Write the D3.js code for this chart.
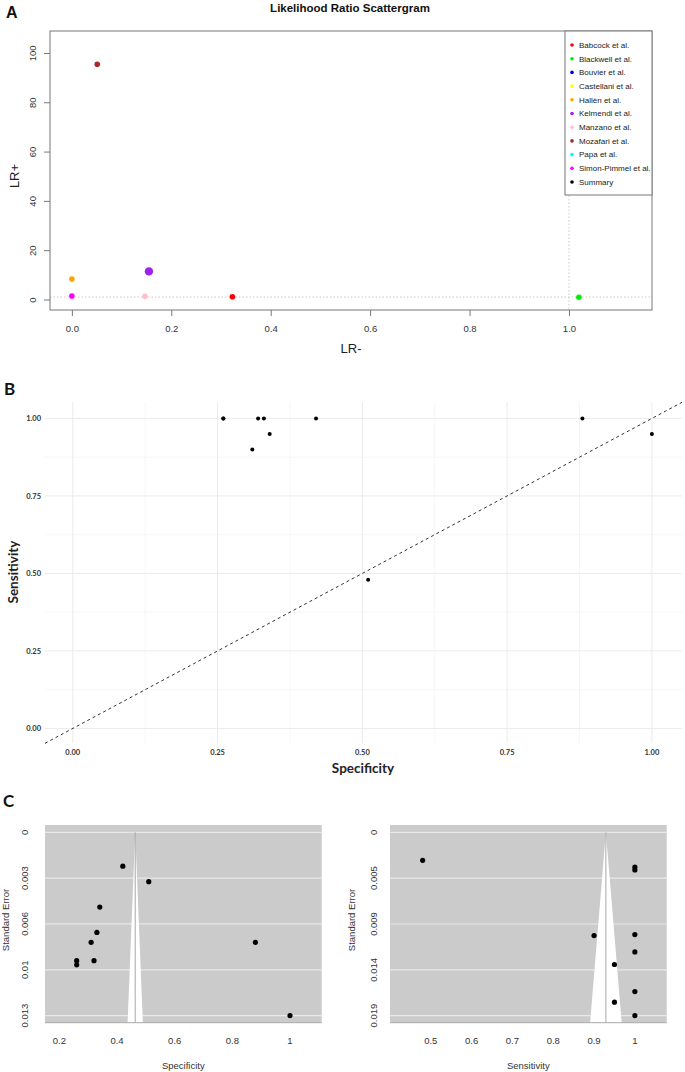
<!DOCTYPE html>
<html><head><meta charset="utf-8">
<script src="https://cdn.jsdelivr.net/npm/d3@7"></script>
<style>body{margin:0;background:#fff} svg{display:block}</style>
</head><body>
<script>
// ---------- DATA ----------
// Panel A: likelihood ratio scattergram
const studies = ["Babcock et al.","Blackwell et al.","Bouvier et al.","Castellani et al.","Hallèn et al.","Kelmendi et al.","Manzano et al.","Mozafari et al.","Papa et al.","Simon-Pimmel et al.","Summary"];
const studyColors = ["#FF0000","#00EE00","#0000CD","#FFFF00","#FFA500","#A020F0","#FFC0CB","#A52A2A","#00FFFF","#FF00FF","#000000"];
const lrNeg = [0.323, 1.02, null, null, 0.0, 0.155, 0.147, 0.051, null, 0.0, null];
const lrPos = [1.1, 0.9, null, null, 8.3, 11.4, 1.3, 95.4, null, 1.4, null];
const lrNegTicks = [0, 0.2, 0.4, 0.6, 0.8, 1.0];
const lrPosTicks = [0, 20, 40, 60, 80, 100];

// Panel B: ROC plane
const rocSpec = [0.26, 0.26, 0.32, 0.33, 0.42, 0.88, 0.34, 0.31, 1.00, 0.51];
const rocSens = [1.00, 1.00, 1.00, 1.00, 1.00, 1.00, 0.95, 0.90, 0.95, 0.48];
const rocTicks = [0, 0.25, 0.5, 0.75, 1];
const rocMinor = [0.125, 0.375, 0.625, 0.875];

// Panel C: funnel plots
const specVals = [0.42, 0.51, 0.34, 0.33, 0.31, 0.88, 0.26, 0.26, 0.32, 1.00];
const specSE   = [0.0024, 0.0035, 0.0053, 0.0071, 0.0078, 0.0078, 0.0091, 0.0094, 0.0091, 0.0130];
const specSummary = 0.463;
const specXTicks = [0.2, 0.4, 0.6, 0.8, 1];
const specYTicks = [0, 0.00325, 0.0065, 0.00975, 0.013];
const specYLabels = ["0", "0.003", "0.006", "0.01", "0.013"];

const sensVals = [0.48, 1.00, 1.00, 0.90, 1.00, 1.00, 0.95, 1.00, 0.95, 1.00];
const sensSE   = [0.0029, 0.0036, 0.0039, 0.0107, 0.0106, 0.0124, 0.0137, 0.0165, 0.0176, 0.0190];
const sensSummary = 0.929;
const sensXTicks = [0.5, 0.6, 0.7, 0.8, 0.9, 1];
const sensYTicks = [0, 0.00475, 0.0095, 0.01425, 0.019];
const sensYLabels = ["0", "0.005", "0.009", "0.014", "0.019"];

// ---------- SETUP ----------
const W = 685, H = 1072;
const svg = d3.select("body").append("svg").attr("width", W).attr("height", H);
svg.append("rect").attr("width", W).attr("height", H).attr("fill", "#fff");
const fR = "'Liberation Sans', Arial, Helvetica, sans-serif";
const fB = "Lato, 'Open Sans', sans-serif";

// ---------- PANEL A ----------
{
  const g = svg.append("g");
  const L = 50, R = 652, T = 31, B = 310;
  const x = d3.scaleLinear().domain([-0.044, 1.167]).range([L, R]);
  const y = d3.scaleLinear().domain([-4.26, 108.9]).range([B, T]);

  g.append("text").attr("x", 6).attr("y", 18).attr("font-family", fR).attr("font-weight", "bold")
    .attr("font-size", 16).attr("fill", "#111").text("A");
  g.append("text").attr("x", 350).attr("y", 12).attr("text-anchor", "middle").attr("font-family", fR)
    .attr("font-weight", "bold").attr("font-size", 11.5).attr("fill", "#111").text("Likelihood Ratio Scattergram");

  // reference lines
  g.append("line").attr("x1", L).attr("x2", R).attr("y1", y(1)).attr("y2", y(1))
    .attr("stroke", "#bbb").attr("stroke-width", 0.8).attr("stroke-dasharray", "1.5,2");
  g.append("line").attr("x1", x(1)).attr("x2", x(1)).attr("y1", T).attr("y2", B)
    .attr("stroke", "#bbb").attr("stroke-width", 0.8).attr("stroke-dasharray", "1.5,2");

  const pts = studies.map((s, i) => ({ s, c: studyColors[i], xv: lrNeg[i], yv: lrPos[i] }))
    .filter(d => d.xv !== null);
  g.selectAll("circle.pa").data(pts).join("circle").attr("class", "pa")
    .attr("cx", d => x(d.xv)).attr("cy", d => y(d.yv))
    .attr("r", d => d.s === "Kelmendi et al." ? 4.2 : 2.8)
    .attr("fill", d => d.c);

  // axes
  const ax = g.append("g").attr("transform", `translate(0,${B})`)
    .call(d3.axisBottom(x).tickValues(lrNegTicks).tickFormat(d3.format(".1f")).tickSize(6).tickPadding(9));
  const ay = g.append("g").attr("transform", `translate(${L},0)`)
    .call(d3.axisLeft(y).tickValues(lrPosTicks).tickSize(6));
  [ax, ay].forEach(a => {
    a.select(".domain").remove();
    a.selectAll(".tick line").attr("stroke", "#777");
    a.selectAll("text").attr("font-family", fR).attr("font-size", 9.5).attr("fill", "#333");
  });
  ay.selectAll("text").attr("x", null).attr("dy", "0.35em").attr("text-anchor", "middle")
    .attr("transform", "translate(-17,0) rotate(-90)");

  g.append("rect").attr("x", L).attr("y", T).attr("width", R - L).attr("height", B - T)
    .attr("fill", "none").attr("stroke", "#777").attr("stroke-width", 1);

  g.append("text").attr("transform", "translate(19,176) rotate(-90)").attr("text-anchor", "middle")
    .attr("font-family", fR).attr("font-size", 13).attr("fill", "#222").text("LR+");
  g.append("text").attr("x", 351).attr("y", 353).attr("text-anchor", "middle")
    .attr("font-family", fR).attr("font-size", 13).attr("fill", "#222").text("LR-");

  // legend
  const lg = g.append("g");
  lg.append("rect").attr("x", 565).attr("y", T).attr("width", R - 565).attr("height", 164)
    .attr("fill", "#fff").attr("stroke", "#777").attr("stroke-width", 1);
  const items = lg.selectAll("g.li").data(studies).join("g").attr("class", "li")
    .attr("transform", (d, i) => `translate(572,${45 + i * 13.7})`);
  items.append("circle").attr("r", 1.8).attr("fill", (d, i) => studyColors[i]);
  items.append("text").attr("x", 7).attr("dy", "0.35em").attr("font-family", fR)
    .attr("font-size", 8).attr("fill", "#222").text(d => d);
}

// ---------- PANEL B ----------
{
  const g = svg.append("g");
  const L = 45, R = 682, T = 402, B = 743;
  const x = d3.scaleLinear().domain([-0.048, 1.052]).range([L, R]);
  const y = d3.scaleLinear().domain([-0.047, 1.053]).range([B, T]);

  g.append("text").attr("x", 4).attr("y", 395).attr("font-family", fB).attr("font-weight", "bold")
    .attr("font-size", 17).attr("fill", "#111").text("B");

  g.selectAll("line.vmin").data(rocMinor).join("line").attr("x1", d => x(d)).attr("x2", d => x(d))
    .attr("y1", T).attr("y2", B).attr("stroke", "#F0F0F0").attr("stroke-width", 0.6);
  g.selectAll("line.hmin").data(rocMinor).join("line").attr("y1", d => y(d)).attr("y2", d => y(d))
    .attr("x1", L).attr("x2", R).attr("stroke", "#F0F0F0").attr("stroke-width", 0.6);
  g.selectAll("line.vmaj").data(rocTicks).join("line").attr("x1", d => x(d)).attr("x2", d => x(d))
    .attr("y1", T).attr("y2", B).attr("stroke", "#EBEBEB").attr("stroke-width", 1);
  g.selectAll("line.hmaj").data(rocTicks).join("line").attr("y1", d => y(d)).attr("y2", d => y(d))
    .attr("x1", L).attr("x2", R).attr("stroke", "#EBEBEB").attr("stroke-width", 1);

  const d0 = x.domain()[0], d1 = x.domain()[1];
  g.append("line").attr("x1", x(d0)).attr("y1", y(d0)).attr("x2", x(d1)).attr("y2", y(d1))
    .attr("stroke", "#333").attr("stroke-width", 1).attr("stroke-dasharray", "3,3");

  g.selectAll("circle").data(rocSpec.map((s, i) => [s, rocSens[i]])).join("circle")
    .attr("cx", d => x(d[0])).attr("cy", d => y(d[1])).attr("r", 2).attr("fill", "#000");

  g.selectAll("text.yt").data(rocTicks).join("text").attr("class", "yt")
    .attr("x", 41).attr("y", d => y(d)).attr("dy", "0.35em").attr("text-anchor", "end")
    .attr("font-family", fB).attr("font-weight", "bold").attr("font-size", 7.5).attr("fill", "#333")
    .text(d3.format(".2f"));
  g.selectAll("text.xt").data(rocTicks).join("text").attr("class", "xt")
    .attr("x", d => x(d)).attr("y", 755).attr("text-anchor", "middle")
    .attr("font-family", fB).attr("font-weight", "bold").attr("font-size", 7.5).attr("fill", "#333")
    .text(d3.format(".2f"));

  g.append("text").attr("x", 363).attr("y", 773).attr("text-anchor", "middle")
    .attr("font-family", fB).attr("font-weight", "bold").attr("font-size", 13.5).attr("fill", "#222").text("Specificity");
  g.append("text").attr("transform", "translate(18,572) rotate(-90)").attr("text-anchor", "middle")
    .attr("font-family", fB).attr("font-weight", "bold").attr("font-size", 13.5).attr("fill", "#222").text("Sensitivity");
}

// ---------- PANEL C ----------
svg.append("text").attr("x", 3).attr("y", 807).attr("font-family", fB).attr("font-weight", "bold")
  .attr("font-size", 17).attr("fill", "#111").text("C");

function funnel(cfg) {
  const g = svg.append("g");
  const T = 825, B = 1022.7;
  const x = d3.scaleLinear().domain(cfg.xDom).range([cfg.L, cfg.R]);
  const y = d3.scaleLinear().domain(cfg.yDom).range([T, B]);
  g.append("rect").attr("x", cfg.L).attr("y", T).attr("width", cfg.R - cfg.L).attr("height", B - T)
    .attr("fill", "#CBCBCB");
  g.selectAll("line.gr").data(cfg.yTicks).join("line").attr("x1", cfg.L).attr("x2", cfg.R)
    .attr("y1", d => y(d)).attr("y2", d => y(d)).attr("stroke", "#E8E8E8").attr("stroke-width", 1.2);
  const seMax = cfg.yDom[1];
  const poly = [[cfg.summary, 0], [cfg.summary - 1.96 * seMax, seMax], [cfg.summary + 1.96 * seMax, seMax]];
  g.append("polygon").attr("points", poly.map(p => [x(p[0]), y(p[1])].join(",")).join(" "))
    .attr("fill", "#fff");
  g.append("line").attr("x1", x(cfg.summary)).attr("x2", x(cfg.summary)).attr("y1", y(0)).attr("y2", B)
    .attr("stroke", "#A8A8A8").attr("stroke-width", 1);
  g.append("line").attr("x1", cfg.L).attr("x2", cfg.R).attr("y1", B).attr("y2", B)
    .attr("stroke", "#AAA").attr("stroke-width", 1);
  g.selectAll("circle").data(cfg.vals.map((v, i) => [v, cfg.se[i]])).join("circle")
    .attr("cx", d => x(d[0])).attr("cy", d => y(d[1])).attr("r", 2.6).attr("fill", "#000");

  g.selectAll("text.xt").data(cfg.xTicks).join("text").attr("class", "xt")
    .attr("x", d => x(d)).attr("y", 1043.5).attr("text-anchor", "middle")
    .attr("font-family", fR).attr("font-size", 9.5).attr("fill", "#333").text(d => d3.format("")(d));
  g.selectAll("text.yt").data(cfg.yTicks).join("text").attr("class", "yt")
    .attr("transform", d => `translate(${cfg.yLabX},${y(d)}) rotate(-90)`).attr("dy", "0.35em")
    .attr("text-anchor", "middle").attr("font-family", fR).attr("font-size", 9.5).attr("fill", "#333")
    .text((d, i) => cfg.yLabels[i]);
  g.append("text").attr("x", (cfg.L + cfg.R) / 2).attr("y", 1069).attr("text-anchor", "middle")
    .attr("font-family", fR).attr("font-size", 9.5).attr("fill", "#333").text(cfg.xTitle);
  g.append("text").attr("transform", `translate(${cfg.yTitleX},920) rotate(-90)`).attr("dy", "0.35em")
    .attr("text-anchor", "middle").attr("font-family", fR).attr("font-size", 9.5).attr("fill", "#333")
    .text("Standard Error");
}

funnel({ L: 45, R: 321.7, xDom: [0.15, 1.11], yDom: [-0.000517, 0.0135],
  yTicks: specYTicks, yLabels: specYLabels, xTicks: specXTicks, vals: specVals, se: specSE,
  summary: specSummary, xTitle: "Specificity", yLabX: 25, yTitleX: 6 });
funnel({ L: 390, R: 666.7, xDom: [0.40, 1.078], yDom: [-0.000756, 0.01973],
  yTicks: sensYTicks, yLabels: sensYLabels, xTicks: sensXTicks, vals: sensVals, se: sensSE,
  summary: sensSummary, xTitle: "Sensitivity", yLabX: 374, yTitleX: 352 });
</script>
</body></html>
